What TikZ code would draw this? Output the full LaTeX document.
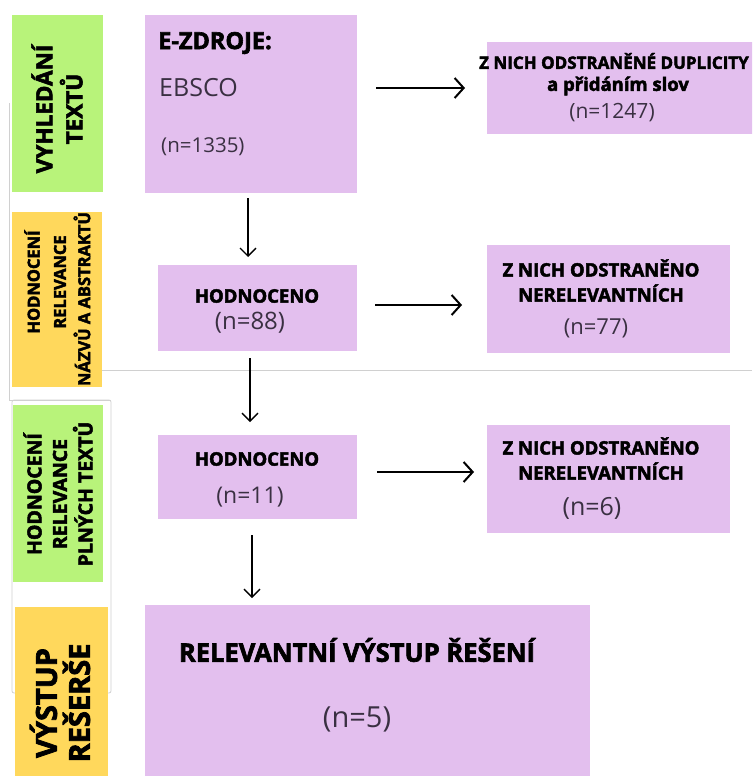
\documentclass[tikz,border=0pt]{standalone}
\usepackage{fontspec}
\setmainfont{Open Sans}[BoldFeatures={FakeBold=2.5}]
\usetikzlibrary{arrows.meta}
\definecolor{lilac}{RGB}{227,191,238}
\definecolor{lime}{RGB}{184,243,122}
\definecolor{sun}{RGB}{255,216,92}
\definecolor{ink}{RGB}{58,48,66}
\definecolor{rulegray}{RGB}{208,208,208}
\tikzset{
  box/.style={fill=lilac, draw=none, inner sep=0pt, anchor=north west},
  band/.style={draw=none, inner sep=0pt, anchor=north west},
  hd/.style={inner sep=0pt, text=black, font=\fontsize{18.5}{21}\selectfont\bfseries},
  num/.style={inner sep=0pt, text=ink, font=\fontsize{22}{26}\selectfont},
  lab/.style={inner sep=0pt, rotate=90, text=black, align=center},
  harrow/.style={line width=2pt, -{Straight Barb[length=9pt,width=20pt,line width=2pt]}},
  varrow/.style={line width=1.4pt, -{Straight Barb[length=8pt,width=16pt,line width=1.4pt]}},
  faint/.style={draw=rulegray, line width=0.8pt}
}
\begin{document}
\begin{tikzpicture}[x=1pt,y=-1pt]
\clip (0,0) rectangle (752,776);
\fill[white] (0,0) rectangle (752,776);

% faint scan lines
\draw[faint] (100,370) -- (752,370);
\draw[faint] (9,103) -- (9,400) -- (111,400);
\draw[faint, rounded corners=2pt] (12,400) rectangle (111,693);

% left bands
\node[band, fill=lime, minimum width=91pt, minimum height=177pt] (b1) at (12,15) {};
\node[band, fill=sun, minimum width=90pt, minimum height=175pt] (b2) at (12,212) {};
\node[band, fill=lime, minimum width=90pt, minimum height=177pt] (b3) at (13,405) {};
\node[band, fill=sun, minimum width=93pt, minimum height=170pt] (b4) at (15,607) {};

\node[lab, font=\fontsize{22.5}{30}\selectfont\bfseries] (l1) at (57,109) {VYHLEDÁNÍ\\TEXTŮ};
\node[lab, font=\fontsize{16.5}{20}\selectfont\bfseries] (l2a) at (32,282) {HODNOCENÍ};
\node[lab, font=\fontsize{16.5}{20}\selectfont\bfseries] (l2b) at (60,282) {RELEVANCE};
\node[lab, font=\fontsize{16.5}{20}\selectfont\bfseries] (l2c) at (82,299) {NÁZVŮ A ABSTRAKTŮ};
\node[lab, font=\fontsize{19.5}{25.5}\selectfont\bfseries] (l3) at (58,494) {HODNOCENÍ\\RELEVANCE\\PLNÝCH TEXTŮ};
\node[lab, font=\fontsize{29}{33}\selectfont\bfseries] (l4) at (60,703) {VÝSTUP\\REŠERŠE};

% purple boxes
\node[box, minimum width=212pt, minimum height=178pt] (src) at (145,15) {};
\node[box, minimum width=270pt, minimum height=92pt] (dup) at (487,42) {};
\node[box, minimum width=199pt, minimum height=86pt] (ev1) at (158,265) {};
\node[box, minimum width=243pt, minimum height=108pt] (rm1) at (487,245) {};
\node[box, minimum width=199pt, minimum height=84pt] (ev2) at (158,435) {};
\node[box, minimum width=243pt, minimum height=108pt] (rm2) at (487,425) {};
\node[box, minimum width=445pt, minimum height=175pt] (out) at (145,605) {};

% texts
\node[hd, anchor=west, font=\fontsize{23.5}{27}\selectfont\bfseries] (srct) at (158,43) {E-ZDROJE:};
\node[num, anchor=west, font=\fontsize{25}{30}\selectfont] (srce) at (159,88) {EBSCO};
\node[num, anchor=west, font=\fontsize{20.5}{24}\selectfont] (srcn) at (161,147) {(n=1335)};

\node[hd, font=\fontsize{17}{20}\selectfont\bfseries] (dupt) at (614,61) {Z NICH ODSTRANĚNÉ DUPLICITY};
\node[hd] (dups) at (618,86) {a přidáním slov};
\node[num, font=\fontsize{21}{24}\selectfont] (dupn) at (612,113) {(n=1247)};

\node[hd] (ev1t) at (257,296) {HODNOCENO};
\node[num, font=\fontsize{24}{28}\selectfont] (ev1n) at (250,323) {(n=88)};
\node[hd] (rm1t) at (601,268) {Z NICH ODSTRANĚNO};
\node[hd] (rm1s) at (601,293) {NERELEVANTNÍCH};
\node[num, font=\fontsize{22}{26}\selectfont] (rm1n) at (596,328) {(n=77)};

\node[hd] (ev2t) at (257,459) {HODNOCENO};
\node[num, font=\fontsize{23}{27}\selectfont] (ev2n) at (250,497) {(n=11)};
\node[hd] (rm2t) at (601,446) {Z NICH ODSTRANĚNO};
\node[hd] (rm2s) at (601,471) {NERELEVANTNÍCH};
\node[num, font=\fontsize{25}{29}\selectfont] (rm2n) at (592,508) {(n=6)};

\node[hd, font=\fontsize{25.5}{30}\selectfont\bfseries] (outt) at (357,650) {RELEVANTNÍ VÝSTUP ŘEŠENÍ};
\node[num, font=\fontsize{29}{34}\selectfont] (outn) at (357,719) {(n=5)};

% connector end points
\coordinate (h1s) at (376,88);  \coordinate (h1e) at (465,88);
\coordinate (h2s) at (375,305); \coordinate (h2e) at (462,305);
\coordinate (h3s) at (377,472); \coordinate (h3e) at (474,472);
\coordinate (v1s) at (248,198); \coordinate (v1e) at (248,257);
\coordinate (v2s) at (250,358); \coordinate (v2e) at (250,422);
\coordinate (v3s) at (252,535); \coordinate (v3e) at (252,598);

\draw[harrow] (h1s) -- (h1e);
\draw[harrow] (h2s) -- (h2e);
\draw[harrow] (h3s) -- (h3e);
\draw[varrow] (v1s) -- (v1e);
\draw[varrow] (v2s) -- (v2e);
\draw[varrow] (v3s) -- (v3e);
\end{tikzpicture}
\end{document}
